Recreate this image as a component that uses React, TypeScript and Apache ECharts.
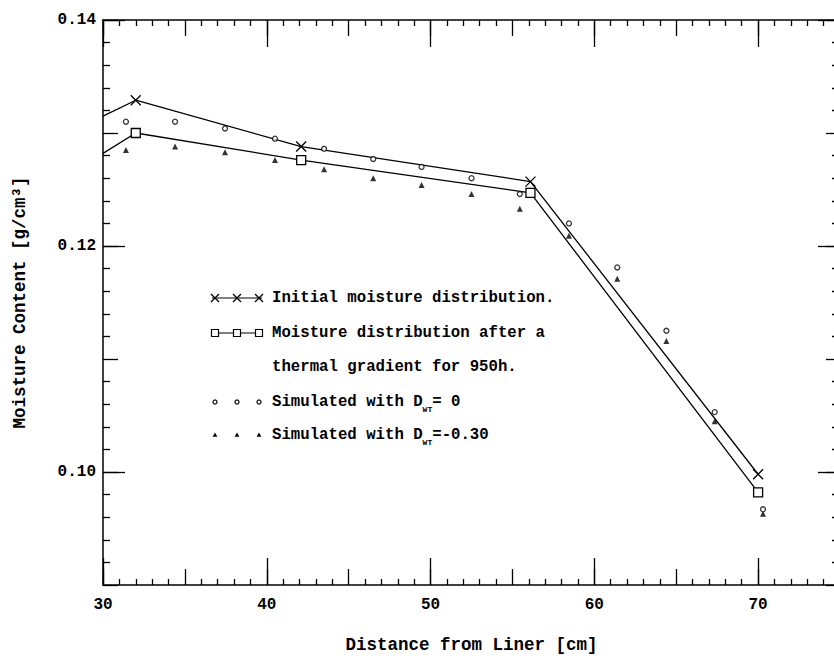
import React, { useEffect, useRef } from 'react';
import * as echarts from 'echarts';

const FONT = '"Liberation Mono", "DejaVu Sans Mono", monospace';
const WEIGHT = 'bold';

// Data
const initialX = [30, 32, 42.1, 56.1, 70];
const initialY = [0.1315, 0.1329, 0.1288, 0.1257, 0.0998];
const afterX = [30, 32, 42.1, 56.1, 70];
const afterY = [0.1282, 0.13, 0.1276, 0.1247, 0.0982];
const simX = [31.4, 34.4, 37.45, 40.5, 43.5, 46.5, 49.45, 52.5, 55.45, 58.45, 61.4, 64.4, 67.35, 70.3];
const sim0Y = [0.131, 0.131, 0.1304, 0.1295, 0.1286, 0.1277, 0.127, 0.126, 0.1246, 0.122, 0.1181, 0.1125, 0.1053, 0.0967];
const sim30Y = [0.1285, 0.1288, 0.1283, 0.1276, 0.1268, 0.126, 0.1254, 0.1246, 0.1233, 0.1209, 0.1171, 0.1116, 0.1045, 0.0963];

const xLabels = ['30', '40', '50', '60', '70'];
const yLabels = ['0.10', '0.12', '0.14'];
const yLongTicks = [0.1, 0.12, 0.14];

const legendRows = [
  { kind: 'x', text: 'Initial moisture distribution.' },
  { kind: 'sq', text: 'Moisture distribution after a' },
  { kind: 'none', text: 'thermal gradient for 950h.' },
  { kind: 'o', text: '{n|Simulated with D}{s|WT}{n|= 0}' },
  { kind: 'tri', text: '{n|Simulated with D}{s|WT}{n|=-0.30}' },
];

const X_MIN = 30;
const X_MAX = 75;
const Y_MIN = 0.09;
const Y_MAX = 0.14;

const BLACK = '#000';
const tickLine = { color: BLACK, width: 1.3 };

function xAxisDef(position: 'top' | 'bottom', kind: 'major' | 'mid') {
  const base: any = {
    type: 'value',
    min: X_MIN,
    max: X_MAX,
    position,
    splitLine: { show: false },
    axisLabel: { show: false },
    axisLine: { show: false },
    axisTick: { show: true, inside: true, lineStyle: tickLine },
  };
  if (kind === 'major') {
    base.interval = 10;
    base.axisTick.length = 27;
    base.axisLine = { show: true, onZero: false, lineStyle: { color: BLACK, width: 1.5 } };
    if (position === 'bottom') {
      base.axisLabel = {
        show: true,
        color: BLACK,
        fontFamily: FONT,
        fontWeight: WEIGHT,
        fontSize: 16,
        margin: 12,
        formatter: (v: number) => (xLabels.includes(String(v)) ? String(v) : ''),
      };
      base.name = 'Distance from Liner [cm]';
      base.nameLocation = 'middle';
      base.nameGap = 51;
      base.nameTextStyle = { color: BLACK, fontFamily: FONT, fontWeight: WEIGHT, fontSize: 17.5 };
    }
  } else {
    base.interval = 5;
    base.axisTick.length = 16;
    base.minorTick = { show: true, splitNumber: 5, length: 6, lineStyle: tickLine };
  }
  return base;
}

function yAxisDef(position: 'left' | 'right', kind: 'major' | 'long') {
  const base: any = {
    type: 'value',
    min: Y_MIN,
    max: Y_MAX,
    position,
    splitLine: { show: false },
    axisLabel: { show: false },
    axisLine: { show: false },
    axisTick: { show: true, inside: true, lineStyle: tickLine },
  };
  if (kind === 'major') {
    base.interval = 0.01;
    base.axisTick.length = position === 'left' ? 15 : 14;
    base.minorTick = { show: true, splitNumber: 5, length: position === 'left' ? 7 : 8, lineStyle: tickLine };
    base.axisLine = { show: true, onZero: false, lineStyle: { color: BLACK, width: 1.5 } };
    if (position === 'left') {
      base.axisLabel = {
        show: true,
        color: BLACK,
        fontFamily: FONT,
        fontWeight: WEIGHT,
        fontSize: 16,
        margin: 7,
        formatter: (v: number) => {
          const s = v.toFixed(2);
          return yLabels.includes(s) ? s : '';
        },
      };
      base.name = 'Moisture Content [g/cm³]';
      base.nameLocation = 'middle';
      base.nameGap = 74;
      base.nameTextStyle = { color: BLACK, fontFamily: FONT, fontWeight: WEIGHT, fontSize: 17.5 };
    }
  } else {
    base.axisTick.length = 22;
    base.axisTick.customValues = yLongTicks;
  }
  return base;
}

function buildLegend() {
  const rowsY = [298, 333, 367, 402, 435];
  const mx = [215, 237, 259];
  const els: any[] = [];
  legendRows.forEach((row, i) => {
    const y = rowsY[i];
    if (row.kind === 'x' || row.kind === 'sq') {
      els.push({
        type: 'line',
        shape: { x1: 212, y1: y, x2: 262, y2: y },
        style: { stroke: BLACK, lineWidth: 1.2 },
      });
    }
    mx.forEach((cx) => {
      if (row.kind === 'x') {
        els.push({ type: 'line', shape: { x1: cx - 4, y1: y - 4, x2: cx + 4, y2: y + 4 }, style: { stroke: BLACK, lineWidth: 1.2 } });
        els.push({ type: 'line', shape: { x1: cx - 4, y1: y + 4, x2: cx + 4, y2: y - 4 }, style: { stroke: BLACK, lineWidth: 1.2 } });
      } else if (row.kind === 'sq') {
        els.push({ type: 'rect', shape: { x: cx - 3.5, y: y - 3.5, width: 7, height: 7 }, style: { fill: '#fff', stroke: BLACK, lineWidth: 1.2 } });
      } else if (row.kind === 'o') {
        els.push({ type: 'circle', shape: { cx, cy: y, r: 2 }, style: { fill: '#fff', stroke: BLACK, lineWidth: 1.2 } });
      } else if (row.kind === 'tri') {
        els.push({ type: 'polygon', shape: { points: [[cx, y - 2.6], [cx - 2.4, y + 1.8], [cx + 2.4, y + 1.8]] }, style: { fill: BLACK } });
      }
    });
    els.push({
      type: 'text',
      x: 272,
      y,
      style: {
        text: row.text,
        fill: BLACK,
        fontFamily: FONT,
        fontWeight: WEIGHT,
        fontSize: 15.7,
        verticalAlign: 'middle',
        align: 'left',
        rich: {
          n: { fontFamily: FONT, fontWeight: WEIGHT, fontSize: 15.7, fill: BLACK, lineHeight: 22, verticalAlign: 'middle' },
          s: { fontFamily: FONT, fontSize: 8, fontWeight: 'bold', fill: BLACK, lineHeight: 22, verticalAlign: 'bottom' },
        },
      },
    });
  });
  return els;
}

export default function App() {
  const ref = useRef<HTMLDivElement>(null);
  useEffect(() => {
    const chart = echarts.init(ref.current!, null, { renderer: 'svg' });
    const pair = (xs: number[], ys: number[]) => xs.map((x, i) => [x, ys[i]]);
    const lineData = (xs: number[], ys: number[]) =>
      xs.map((x, i) => (x === X_MIN ? { value: [x, ys[i]], symbol: 'none' } : { value: [x, ys[i]] }));
    chart.setOption({
      animation: false,
      backgroundColor: '#fff',
      grid: { left: 103, right: -6, top: 20, bottom: 78, containLabel: false, outerBoundsMode: 'none' },
      xAxis: [
        xAxisDef('bottom', 'major'),
        xAxisDef('bottom', 'mid'),
        xAxisDef('top', 'major'),
        xAxisDef('top', 'mid'),
      ],
      yAxis: [
        yAxisDef('left', 'major'),
        yAxisDef('left', 'long'),
        yAxisDef('right', 'major'),
        yAxisDef('right', 'long'),
      ],
      series: [
        {
          name: 'Initial moisture distribution.',
          type: 'line',
          xAxisIndex: 0,
          yAxisIndex: 0,
          data: lineData(initialX, initialY),
          symbol: 'path://M0 0L10 10M10 0L0 10',
          symbolSize: 10,
          showAllSymbol: true,
          lineStyle: { color: BLACK, width: 1.3 },
          itemStyle: { color: BLACK, borderColor: BLACK, borderWidth: 1.3 },
          z: 3,
        },
        {
          name: 'Moisture distribution after a thermal gradient for 950h.',
          type: 'line',
          xAxisIndex: 0,
          yAxisIndex: 0,
          data: lineData(afterX, afterY),
          symbol: 'rect',
          symbolSize: 9,
          showAllSymbol: true,
          lineStyle: { color: BLACK, width: 1.3 },
          itemStyle: { color: '#fff', borderColor: BLACK, borderWidth: 1.3 },
          z: 3,
        },
        {
          name: 'Simulated with DWT= 0',
          type: 'scatter',
          xAxisIndex: 0,
          yAxisIndex: 0,
          data: pair(simX, sim0Y),
          symbol: 'circle',
          symbolSize: 5,
          itemStyle: { color: '#fff', borderColor: BLACK, borderWidth: 1.3 },
          z: 4,
        },
        {
          name: 'Simulated with DWT=-0.30',
          type: 'scatter',
          xAxisIndex: 0,
          yAxisIndex: 0,
          data: pair(simX, sim30Y),
          symbol: 'triangle',
          symbolSize: 6,
          itemStyle: { color: BLACK },
          z: 4,
        },
      ],
      graphic: buildLegend(),
    });
    return () => chart.dispose();
  }, []);
  return <div ref={ref} style={{ position: 'absolute', left: 0, top: 0, width: 834, height: 663 }} />;
}
